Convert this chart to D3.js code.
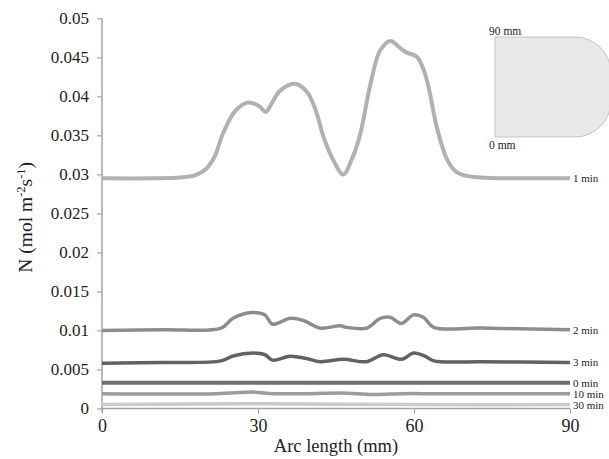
<!DOCTYPE html>
<html><head><meta charset="utf-8">
<script src="https://cdn.jsdelivr.net/npm/d3@7"></script>
<style>body{margin:0;background:#fff}svg{display:block}svg text{font-family:"Liberation Serif","Times New Roman",Times,serif !important}</style>
</head><body><svg id="c" width="609" height="459"></svg>
<script>
const xTicks = [0, 30, 60, 90];
const yTicks = [0, 0.005, 0.01, 0.015, 0.02, 0.025, 0.03, 0.035, 0.04, 0.045, 0.05];
const yTickLabels = ["0","0.005","0.01","0.015","0.02","0.025","0.03","0.035","0.04","0.045","0.05"];

const series1minX = [0, 10, 15, 18, 20, 21.6, 23.3, 25.6, 28.1, 30.3, 31.5, 32.8, 34.2, 37.1, 39.5, 41.2, 42.6, 44.5, 46.4, 48.2, 49.6, 51.8, 53.5, 55.5, 57.3, 58.6, 60.5, 61.8, 62.8, 64.4, 66.3, 68, 69.5, 72.7, 80, 90];
const series1minY = [0.0295, 0.0295, 0.0296, 0.0299, 0.0307, 0.0322, 0.0353, 0.0381, 0.0392, 0.0387, 0.0380, 0.0393, 0.0407, 0.0416, 0.0405, 0.0380, 0.0348, 0.0318, 0.0300, 0.0322, 0.0350, 0.0421, 0.0459, 0.0471, 0.0462, 0.0456, 0.0451, 0.0435, 0.0412, 0.0360, 0.0320, 0.0304, 0.0299, 0.0296, 0.0295, 0.0295];

const series2minX = [0, 12, 22.9, 25.2, 28.8, 31.3, 32.8, 36.2, 38.7, 41.9, 45.8, 47.0, 50.9, 53.5, 55.4, 57.6, 59.9, 61.8, 63.8, 72.7, 90];
const series2minY = [0.0100, 0.0101, 0.0103, 0.01156, 0.0123, 0.0120, 0.0108, 0.01156, 0.0113, 0.0103, 0.0106, 0.0104, 0.0103, 0.01156, 0.0117, 0.0109, 0.0120, 0.0117, 0.0104, 0.0103, 0.0101];

const series3minX = [0, 12, 22.9, 25.2, 29.1, 31.3, 32.8, 36.2, 39.3, 41.9, 46.4, 50.9, 54.1, 57.6, 59.9, 62.1, 63.8, 72.7, 90];
const series3minY = [0.0058, 0.0059, 0.0061, 0.00673, 0.0071, 0.0069, 0.0062, 0.0067, 0.0064, 0.0060, 0.0063, 0.0060, 0.0069, 0.0063, 0.0071, 0.0067, 0.0061, 0.0060, 0.0059];

const series0minX = [0, 90];
const series0minY = [0.0033, 0.0033];

const series10minX = [0, 22, 29, 33, 40, 46, 52, 58, 64, 90];
const series10minY = [0.0019, 0.0019, 0.0021, 0.0019, 0.0019, 0.0020, 0.0018, 0.0019, 0.0019, 0.0019];

const series30minX = [0, 30, 60, 90];
const series30minY = [0.0005, 0.0006, 0.0005, 0.0005];

const seriesNames = ["1 min", "2 min", "3 min", "0 min", "10 min", "30 min"];
const seriesColors = ["#b1b1b1", "#8d8d8d", "#626262", "#6e6e6e", "#9c9c9c", "#cacaca"];
const seriesWidths = [4, 3.5, 3.5, 4, 3.5, 3.5];
const seriesX = [series1minX, series2minX, series3minX, series0minX, series10minX, series30minX];
const seriesY = [series1minY, series2minY, series3minY, series0minY, series10minY, series30minY];

const svg = d3.select("#c");
const x = d3.scaleLinear().domain([0, 90]).range([102, 570]);
const y = d3.scaleLinear().domain([0, 0.05]).range([408.5, 18.3]);
const axisColor = "#a3a3a3";

// Y axis
const yAxis = svg.append("g").attr("transform", `translate(${x(0)},0)`)
  .call(d3.axisLeft(y).tickValues(yTicks).tickSize(5).tickFormat((d, i) => yTickLabels[i]));
yAxis.attr("font-size", 17);
yAxis.select(".domain").attr("stroke", axisColor).attr("stroke-width", 1.5).attr("d", `M0,${y(0.05)}V${y(0)+3}`);
yAxis.selectAll(".tick line").attr("stroke", axisColor).attr("stroke-width", 1.2);
yAxis.selectAll(".tick text").attr("fill", "#222").attr("x", -13);

// X axis
const xAxis = svg.append("g").attr("transform", `translate(0,${y(0)})`)
  .call(d3.axisBottom(x).tickValues(xTicks).tickSize(5).tickFormat(d3.format("d")));
xAxis.attr("font-size", 18);
xAxis.select(".domain").attr("stroke", axisColor).attr("stroke-width", 1.5).attr("d", `M${x(0)},0H${x(90)}`);
xAxis.selectAll(".tick line").attr("stroke", axisColor).attr("stroke-width", 1.2);
xAxis.selectAll(".tick text").attr("fill", "#222").attr("y", 11);

// Lines
const line = d3.line().curve(d3.curveCatmullRom.alpha(0.5));
seriesNames.forEach((name, i) => {
  const pts = seriesX[i].map((v, j) => [x(v), y(seriesY[i][j])]);
  svg.append("path").attr("d", line(pts)).attr("fill", "none")
    .attr("stroke", seriesColors[i]).attr("stroke-width", seriesWidths[i]).attr("stroke-linejoin", "round");
  const last = seriesY[i][seriesY[i].length - 1];
  svg.append("text").attr("x", x(90) + 3).attr("y", y(last) + 4)
    .attr("font-size", 11).attr("fill", "#222").text(name);
});

// Axis titles
svg.append("text").attr("x", x(45)).attr("y", 452).attr("text-anchor", "middle")
  .attr("font-size", 18.5).attr("fill", "#222").text("Arc length (mm)");
const yt = svg.append("text").attr("transform", `translate(32,${y(0.0245)}) rotate(-90)`)
  .attr("text-anchor", "middle").attr("font-size", 19.5).attr("fill", "#222");
yt.append("tspan").text("N (mol m");
yt.append("tspan").attr("font-size", 12.5).attr("dy", -7).text("-2");
yt.append("tspan").attr("dy", 7).text("s");
yt.append("tspan").attr("font-size", 12.5).attr("dy", -7).text("-1");
yt.append("tspan").attr("dy", 7).text(")");

// Inset shape
svg.append("path").attr("d", "M495,37H575A36,36 0 0 1 611,73V101A36,36 0 0 1 575,137H495Z")
  .attr("fill", "#e8e8e8").attr("stroke", "#c4c4c4").attr("stroke-width", 1);
svg.append("text").attr("x", 489).attr("y", 35).attr("font-size", 11.5).attr("fill", "#222").text("90 mm");
svg.append("text").attr("x", 489).attr("y", 149).attr("font-size", 11.5).attr("fill", "#222").text("0 mm");
</script></body></html>
